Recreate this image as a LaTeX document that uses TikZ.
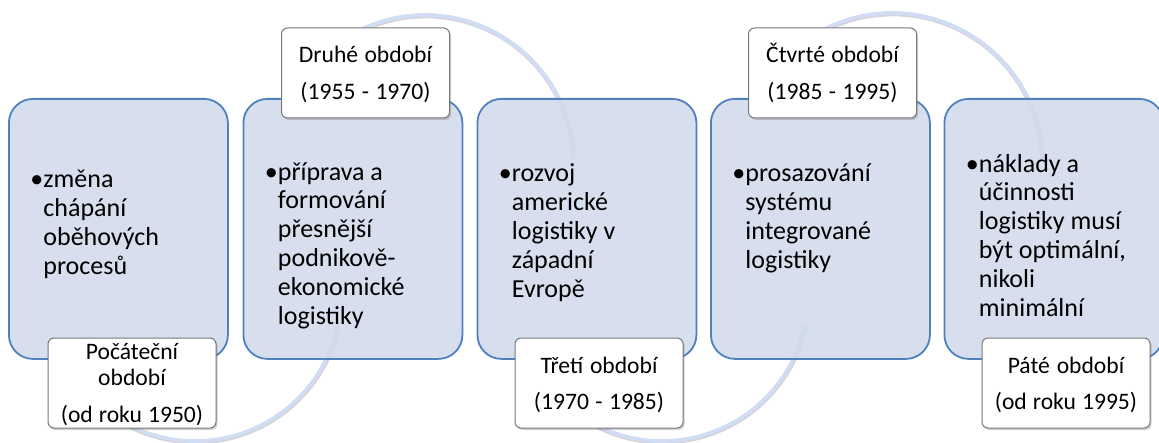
\documentclass[tikz,border=0pt]{standalone}
\usepackage{fontspec}
\setmainfont{Carlito}
\usetikzlibrary{shadows}
\definecolor{boxfill}{RGB}{209,218,234}
\definecolor{boxline}{RGB}{79,129,189}
\definecolor{labelline}{RGB}{120,120,120}
\definecolor{arcblue}{RGB}{208,221,244}
\definecolor{arcgray}{RGB}{212,212,218}
\begin{document}
\begin{tikzpicture}[x=0.5pt,y=-0.5pt,
  bigbox/.style={draw=boxline, line width=0.9pt, fill=boxfill, fill opacity=0.88, rounded corners=12pt, minimum width=109.5pt, minimum height=130pt, anchor=north west, inner sep=0pt},
  bodytext/.style={anchor=base west, inner sep=0pt, text width=100pt, align=left, font=\fontsize{13}{14.4}\selectfont, execute at begin node={\spaceskip=0pt\xspaceskip=0pt\relax}},
  labelbox/.style={draw=labelline, line width=0.5pt, fill=white, rounded corners=3pt, inner sep=0pt, text width=84pt, align=center, anchor=base, font=\fontsize{11.8}{13.35}\selectfont, execute at begin node={\spaceskip=0pt\xspaceskip=0pt\relax}, drop shadow={shadow xshift=0.8pt, shadow yshift=-1pt, opacity=0.3, fill=black!60}},
  toplabel/.style={labelbox, text height=17.5pt, text depth=27.5pt},
  arcshade/.style={draw=arcgray, line width=2.4pt},
  arcline/.style={draw=arcblue, line width=1.8pt},
]
\useasboundingbox (0,0) rectangle (1159,443);

% background arcs
\coordinate (cA) at (195,295);
\coordinate (cB) at (425,163);
\coordinate (cC) at (662,295);
\coordinate (cD) at (892,163);
\foreach \c/\s/\e/\r in {cA/160/12/146, cB/215/358/148, cC/160/12/146, cD/215/358/150}{
  \draw[arcshade] ([shift={(0.6,1)}]\c) ++(\s:\r) arc[start angle=\s, end angle=\e, radius=\r];
  \draw[arcline] (\c) ++(\s:\r) arc[start angle=\s, end angle=\e, radius=\r];
}

% main boxes
\node[bigbox] (b1) at (8,98) {};
\node[bigbox] (b2) at (242.5,98) {};
\node[bigbox] (b3) at (476.5,98) {};
\node[bigbox] (b4) at (710,98) {};
\node[bigbox] (b5) at (943.5,98) {};

% body texts
\node[bodytext] (t1) at (43,188) {\llap{•}změna\\chápání\\oběhových\\procesů};
\node[bodytext] (t2) at (277.5,180) {\llap{•}příprava a\\formování\\přesnější\\podnikově-\\ekonomické\\logistiky};
\node[bodytext] (t3) at (511.5,182) {\llap{•}rozvoj\\americké\\logistiky v\\západní\\Evropě};
\node[bodytext] (t4) at (745,182) {\llap{•}prosazování\\systému\\integrované\\logistiky};
\node[bodytext] (t5) at (978.5,172) {\llap{•}náklady a\\účinnosti\\logistiky musí\\být optimální,\\nikoli\\minimální};

% labels
\node[labelbox, text height=10.5pt, text depth=34.5pt] (l1) at (132,359) {Počáteční\\období\\[4.8pt](od roku 1950)};
\node[toplabel] (l2) at (365.5,63) {Druhé období\\[4.8pt](1955 - 1970)};
\node[toplabel] (l3) at (599,373) {Třetí období\\[4.8pt](1970 - 1985)};
\node[toplabel] (l4) at (832.5,63) {Čtvrté období\\[4.8pt](1985 - 1995)};
\node[toplabel] (l5) at (1066,373) {Páté období\\[4.8pt](od roku 1995)};
\end{tikzpicture}
\end{document}
